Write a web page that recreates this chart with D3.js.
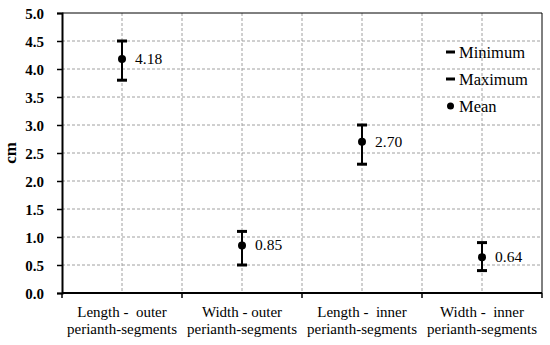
<!DOCTYPE html>
<html>
<head>
<meta charset="utf-8">
<script src="https://cdn.jsdelivr.net/npm/d3@7"></script>
<style>
  html, body { margin: 0; padding: 0; background: #fff; }
  svg { display: block; }
</style>
</head>
<body>
<svg id="chart" width="550" height="345"></svg>
<script>
const categoryLine1 = ["Length -  outer", "Width - outer", "Length -  inner", "Width -  inner"];
const categoryLine2 = ["perianth-segments", "perianth-segments", "perianth-segments", "perianth-segments"];
const meanValues = [4.18, 0.85, 2.70, 0.64];
const minValues = [3.8, 0.5, 2.3, 0.4];
const maxValues = [4.5, 1.1, 3.0, 0.9];
const yTickValues = [0, 0.5, 1.0, 1.5, 2.0, 2.5, 3.0, 3.5, 4.0, 4.5, 5.0];
const legendLabels = ["Minimum", "Maximum", "Mean"];
const yAxisTitle = "cm";

(function () {
const FONT = "Liberation Serif";
const svg = d3.select("#chart");
const pL = 62, pR = 542, pT = 13, pB = 293;

const ids = categoryLine1.map((d, i) => i);
const x = d3.scaleBand().domain(ids).range([pL, pR]).padding(0);
const y = d3.scaleLinear().domain([0, 5]).range([pB, pT]);
const cx = i => x(i) + x.bandwidth() / 2;

const grid = svg.append("g");
grid.selectAll("line.h").data(yTickValues.filter(v => v > 0 && v < 5)).join("line")
  .attr("x1", pL).attr("x2", pR)
  .attr("y1", d => y(d)).attr("y2", d => y(d))
  .attr("stroke", "#a0a0a0").attr("stroke-width", 1).attr("stroke-dasharray", "3,2");
const vpos = [];
ids.forEach(i => { vpos.push(cx(i)); if (i > 0) vpos.push(x(i)); });
grid.selectAll("line.v").data(vpos).join("line")
  .attr("x1", d => d).attr("x2", d => d)
  .attr("y1", pT).attr("y2", pB)
  .attr("stroke", "#a0a0a0").attr("stroke-width", 1).attr("stroke-dasharray", "3,2");

svg.append("line").attr("x1", pL).attr("x2", pR).attr("y1", pT).attr("y2", pT)
  .attr("stroke", "#000").attr("stroke-width", 1);
svg.append("line").attr("x1", pR).attr("x2", pR).attr("y1", pT).attr("y2", pB)
  .attr("stroke", "#000").attr("stroke-width", 1);

const yAxis = d3.axisLeft(y).tickValues(yTickValues).tickFormat(d3.format(".1f")).tickSizeOuter(0).tickSize(5).tickPadding(13);
const gy = svg.append("g").attr("transform", `translate(${pL},0)`).call(yAxis)
  .attr("font-family", FONT).attr("font-size", 15);
gy.select(".domain").attr("stroke-width", 2);
gy.selectAll(".tick line").attr("stroke-width", 1.5);
gy.selectAll("text").attr("font-family", FONT).attr("font-weight", "bold")
  .attr("font-size", 15).attr("fill", "#000").attr("dy", "0.35em");

const boundaries = ids.map(i => x(i)).concat([pR]);
svg.append("line").attr("x1", pL).attr("x2", pR).attr("y1", pB).attr("y2", pB)
  .attr("stroke", "#000").attr("stroke-width", 2);
svg.selectAll("line.xt").data(boundaries).join("line")
  .attr("x1", d => d).attr("x2", d => d).attr("y1", pB).attr("y2", pB + 5)
  .attr("stroke", "#000").attr("stroke-width", 1.5);

const labels = svg.append("g");
ids.forEach(i => {
  [categoryLine1[i], categoryLine2[i]].forEach((t, j) => {
    labels.append("text").attr("x", cx(i)).attr("y", 317 + j * 17)
      .attr("font-family", FONT).attr("font-size", 15).attr("text-anchor", "middle")
      .attr("fill", "#000").style("white-space", "pre").text(t);
  });
});

svg.append("text").attr("transform", `translate(16,${(pT + pB) / 2}) rotate(-90)`)
  .attr("font-family", FONT).attr("text-anchor", "middle").attr("font-weight", "bold")
  .attr("font-size", 17).text(yAxisTitle);

const marks = svg.append("g");
ids.forEach(i => {
  marks.append("line").attr("x1", cx(i)).attr("x2", cx(i))
    .attr("y1", y(minValues[i])).attr("y2", y(maxValues[i]))
    .attr("stroke", "#000").attr("stroke-width", 2);
  [minValues[i], maxValues[i]].forEach(v => {
    marks.append("line").attr("x1", cx(i) - 5).attr("x2", cx(i) + 5)
      .attr("y1", y(v)).attr("y2", y(v)).attr("stroke", "#000").attr("stroke-width", 3);
  });
  marks.append("circle").attr("cx", cx(i)).attr("cy", y(meanValues[i])).attr("r", 4).attr("fill", "#000");
  marks.append("text").attr("x", cx(i) + 13).attr("y", y(meanValues[i]) + 5)
    .attr("font-family", FONT).attr("font-size", 15.5).text(meanValues[i].toFixed(2));
});

const leg = svg.append("g");
const legY = [52, 79, 106];
legendLabels.forEach((lab, k) => {
  if (k < 2) {
    leg.append("line").attr("x1", 446).attr("x2", 455).attr("y1", legY[k]).attr("y2", legY[k])
      .attr("stroke", "#000").attr("stroke-width", 3);
  } else {
    leg.append("circle").attr("cx", 450.5).attr("cy", legY[k]).attr("r", 3.5).attr("fill", "#000");
  }
  leg.append("text").attr("x", 459).attr("y", legY[k] + 5.5)
    .attr("font-family", FONT).attr("font-size", 16.5).text(lab);
});
})();
</script>
</body>
</html>
